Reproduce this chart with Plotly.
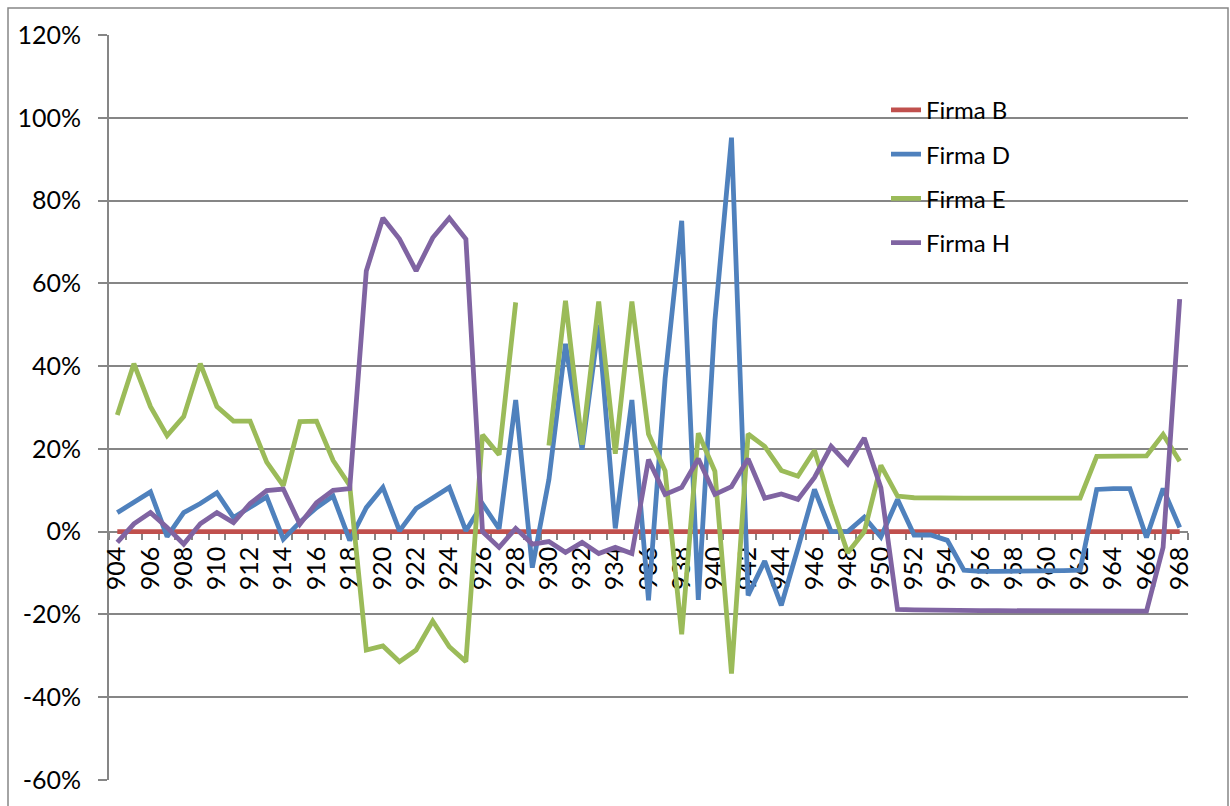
import plotly.graph_objects as go

# Categories on the horizontal axis
periods = list(range(904, 969))
tick_labels = [str(p) for p in periods if p % 2 == 0]
tick_positions = [p for p in periods if p % 2 == 0]
# Category boundaries (tick marks between categories)
boundaries = [p - 0.5 for p in periods] + [periods[-1] + 0.5]

# Vertical axis ticks (percent)
y_ticks = [-60, -40, -20, 0, 20, 40, 60, 80, 100, 120]
y_tick_labels = ["-60%", "-40%", "-20%", "0%", "20%", "40%", "60%", "80%", "100%", "120%"]

# Series values in percent (index 0 = 904)
firma_b = [
    0, 0, 0, 0, 0, 0, 0, 0, 0, 0, 0, 0, 0,
    0, 0, 0, 0, 0, 0, 0, 0, 0, 0, 0, 0, 0,
    0, 0, 0, 0, 0, 0, 0, 0, 0, 0, 0, 0, 0,
    0, 0, 0, 0, 0, 0, 0, 0, 0, 0, 0, 0, 0,
    0, 0, 0, 0, 0, 0, 0, 0, 0, 0, 0, 0, 0,
]
firma_d = [
    4.6, 7.0, 9.6, -1.2, 4.6, 6.8, 9.4, 3.4, 6.0, 8.4, -1.8, 2.3, 5.8,      # 904-916
    8.6, -2.1, 5.8, 10.7, 0.2, 5.6, 8.0, 10.7, 0.2, 6.7, 0.7, 31.8, -8.7,   # 917-929
    12.6, 45.4, 19.8, 50.0, 0.8, 31.8, -16.6, 37.0, 75.1, -16.5, 51.0, 95.2, -15.4,  # 930-942
    -7.1, -17.8, -4.0, 10.2, 0.0, 0.0, 3.5, -1.3, 7.8, -0.8, -0.8, -2.1, -9.3,  # 943-955
    -9.6, -9.6, -9.6, -9.5, -9.4, -9.4, -9.3, 10.2, 10.4, 10.4, -1.4, 10.4, 1.0,  # 956-968
]
firma_e = [
    28.2, 40.6, 30.2, 23.2, 27.8, 40.6, 30.2, 26.7, 26.7, 16.8, 11.1, 26.6, 26.7,  # 904-916
    17.2, 11.2, -28.6, -27.6, -31.4, -28.6, -21.6, -27.8, -31.4, 23.4, 18.6, 55.4, None,  # 917-929
    20.8, 55.8, 21.0, 55.6, 18.8, 55.6, 23.6, 14.7, -24.8, 23.8, 14.6, -34.3, 23.6,  # 930-942
    20.6, 14.8, 13.4, 19.6, 6.7, -5.1, 0.0, 16.0, 8.6, 8.2, 8.1, 8.0, 8.1,  # 943-955
    8.1, 8.1, 8.1, 8.1, 8.1, 8.1, 8.1, 18.2, 18.2, 18.3, 18.3, 23.5, 17.0,  # 956-968
]
firma_h = [
    -2.6, 1.9, 4.6, 1.0, -3.0, 1.9, 4.6, 2.2, 6.8, 9.9, 10.3, 1.8, 7.0,  # 904-916
    10.0, 10.4, 63.0, 75.8, 70.7, 63.0, 71.0, 75.8, 70.7, 0.0, -3.8, 0.8, -3.0,  # 917-929
    -2.4, -5.0, -2.6, -5.3, -3.8, -5.3, 17.4, 9.0, 10.7, 17.6, 9.0, 10.9, 17.6,  # 930-942
    8.1, 9.1, 7.8, 13.1, 20.6, 16.3, 22.6, 10.6, -18.8, -18.9, -19.0, -19.1, -19.1,  # 943-955
    -19.1, -19.1, -19.1, -19.1, -19.1, -19.1, -19.1, -19.3, -19.2, -19.1, -19.2, -3.8, 56.2,  # 956-968
]

series_names = ["Firma B", "Firma D", "Firma E", "Firma H"]
series_values = [firma_b, firma_d, firma_e, firma_h]
series_colors = ["#C0504D", "#4F81BD", "#9BBB59", "#8064A2"]

FONT = "Lato, 'Open Sans', sans-serif"
TICK_SIZE = 25
LEGEND_SIZE = 24
GRID = "#868686"

fig = go.Figure()
for name, vals, col in zip(series_names, series_values, series_colors):
    fig.add_trace(go.Scatter(
        x=periods, y=vals, name=name, mode="lines",
        line=dict(color=col, width=4.8),
        connectgaps=False, legendgroup=name,
    ))

# Carrier trace for the boundary tick-mark axis
fig.add_trace(go.Scatter(
    x=[boundaries[0]], y=[None], xaxis="x2", mode="lines",
    showlegend=False, hoverinfo="skip",
))

W, H = 1230, 806
ML, MR, MT, MB = 109, 42, 35, 24
plot_w = W - ML - MR
plot_h = H - MT - MB

y_min, y_max = -60, 120
zero_frac = (0 - y_min) / (y_max - y_min)
x_range = [boundaries[0], boundaries[-1]]

fig.update_layout(
    width=W, height=H,
    margin=dict(l=ML, r=MR, t=MT, b=MB, pad=0),
    paper_bgcolor="white", plot_bgcolor="white",
    font=dict(family=FONT, size=TICK_SIZE, color="black"),
    showlegend=True,
    legend=dict(
        x=(886 - ML) / plot_w, y=(MT + plot_h - 88) / plot_h,
        xanchor="left", yanchor="top",
        bgcolor="rgba(0,0,0,0)", borderwidth=0,
        font=dict(family=FONT, size=LEGEND_SIZE, color="black"),
        traceorder="grouped", tracegroupgap=10,
    ),
    xaxis=dict(
        range=x_range,
        tickmode="array", tickvals=tick_positions, ticktext=tick_labels,
        tickangle=-90, ticks="", showgrid=False, zeroline=False,
        showline=True, linecolor=GRID, linewidth=2,
        anchor="free", position=zero_frac, layer="below traces",
        ticklabelstandoff=4,
        tickfont=dict(family=FONT, size=TICK_SIZE, color="black"),
    ),
    xaxis2=dict(
        range=x_range, overlaying="x", side="bottom",
        anchor="free", position=zero_frac, layer="below traces",
        tickmode="array", tickvals=boundaries, ticks="outside",
        ticklen=7, tickwidth=1.5, tickcolor=GRID,
        showticklabels=False, showgrid=False, zeroline=False, showline=False,
    ),
    yaxis=dict(
        range=[y_min, y_max], tickmode="array",
        tickvals=y_ticks, ticktext=y_tick_labels,
        showgrid=True, gridcolor=GRID, gridwidth=2,
        zeroline=False, showline=True, linecolor=GRID, linewidth=2,
        ticks="outside", ticklen=9, tickcolor=GRID, tickwidth=2,
        ticklabelstandoff=12, layer="below traces",
        tickfont=dict(family=FONT, size=TICK_SIZE, color="black"),
    ),
)

# Outer chart-area frame
fig.add_shape(
    type="rect", xref="paper", yref="paper", layer="below",
    x0=(8 - ML) / plot_w, x1=(1228 - ML) / plot_w,
    y0=(MT + plot_h - 812) / plot_h, y1=(MT + plot_h - 8) / plot_h,
    line=dict(color=GRID, width=1.5), fillcolor="rgba(0,0,0,0)",
)

fig.write_html("out.html")
